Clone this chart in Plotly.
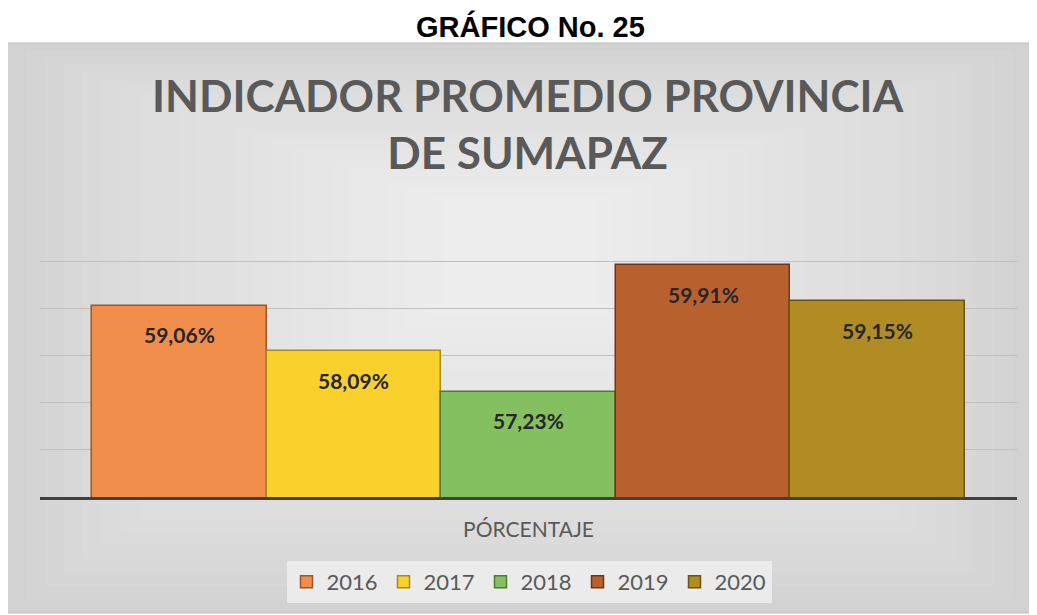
import plotly.graph_objects as go

# ---- data ----
axis_title = "PÓRCENTAJE"
years = ["2016", "2017", "2018", "2019", "2020"]
values = [59.06, 58.09, 57.23, 59.91, 59.15]
labels = [f"{v:.2f}".replace(".", ",") + "%" for v in values]
colors = ["#F28E4B", "#FAD02C", "#84C060", "#B9612E", "#B18B24"]
edge_colors = ["#9c5526", "#a88a14", "#4f7a35", "#6e3616", "#6b5410"]

W, H = 1037, 615
OFF = 8  # page body margin


def px_x(v):
    return (v - OFF) / W


def px_y(v):
    return 1 - (v - OFF) / H


fig = go.Figure()
for yr, v, c, ec in zip(years, values, colors, edge_colors):
    fig.add_trace(go.Bar(
        x=[yr], y=[v], name=yr,
        marker=dict(color=c, line=dict(color=ec, width=1.5)),
        hoverinfo="skip",
    ))

# ---- background box with approximate radial gradient ----
shapes = []
bx0, by0, bx1, by1 = 7, 43, 1032, 613
shapes.append(dict(type="rect", xref="paper", yref="paper",
                   x0=px_x(bx0), x1=px_x(bx1), y0=px_y(by1), y1=px_y(by0),
                   fillcolor="#d2d2d2", line=dict(width=0), layer="below"))
cx, cy = 520, 250
n = 26
for i in range(1, n + 1):
    f = i / (n + 1)
    x0 = bx0 + (cx - bx0) * f
    x1 = bx1 - (bx1 - cx) * f
    y0 = by0 + (cy - by0) * f * 0.9
    y1 = by1 - (by1 - cy) * f
    shapes.append(dict(type="rect", xref="paper", yref="paper",
                       x0=px_x(x0), x1=px_x(x1), y0=px_y(y1), y1=px_y(y0),
                       fillcolor="rgba(255,255,255,0.05)", line=dict(width=0),
                       layer="below"))
shapes.append(dict(type="rect", xref="paper", yref="paper",
                   x0=px_x(bx0), x1=px_x(bx1), y0=px_y(by1), y1=px_y(by0),
                   fillcolor="rgba(0,0,0,0)", line=dict(color="#bdbdbd", width=1),
                   layer="below"))

annotations = [
    dict(text="<b>GRÁFICO No. 25</b>", xref="paper", yref="paper",
         x=px_x(530), y=1.0, xanchor="center", yanchor="top", showarrow=False,
         font=dict(family="Liberation Sans", size=29, color="#000000")),
    dict(text="<b>INDICADOR PROMEDIO PROVINCIA<br>DE SUMAPAZ</b>", xref="paper", yref="paper",
         x=px_x(528), y=px_y(124), xanchor="center", yanchor="middle", showarrow=False,
         font=dict(family="Lato", size=44, color="#595959")),
]
# value labels inside the top of each bar (x given as category index)
for idx, (v, lab) in enumerate(zip(values, labels)):
    annotations.append(dict(text=f"<b>{lab}</b>", x=idx, y=v, xref="x", yref="y",
                            yshift=-29, showarrow=False, xanchor="center", yanchor="middle",
                            font=dict(family="Lato", size=21, color="#262626")))

fig.update_layout(
    width=W, height=H,
    margin=dict(l=0, r=0, t=0, b=0),
    paper_bgcolor="#ffffff", plot_bgcolor="rgba(0,0,0,0)",
    barmode="overlay", bargap=0,
    shapes=shapes, annotations=annotations,
    showlegend=True,
    legend=dict(orientation="h", x=px_x(529), xanchor="center",
                y=px_y(582), yanchor="middle",
                bgcolor="#ebebeb", font=dict(family="Lato", size=22, color="#595959"),
                itemwidth=30, entrywidth=52, entrywidthmode="pixels", traceorder="normal",
                itemclick=False, itemdoubleclick=False),
    xaxis=dict(type="category", domain=[px_x(40), px_x(1017)], range=[-0.798, 4.798],
               showgrid=False, zeroline=False, showticklabels=False,
               showline=True, linecolor="#404040", linewidth=3, ticks="",
               automargin=False,
               title=dict(text=axis_title, standoff=24,
                          font=dict(family="Lato", size=21, color="#595959"))),
    yaxis=dict(domain=[px_y(497), px_y(214)], range=[55, 61], dtick=1,
               showticklabels=False, showgrid=True, gridcolor="#c0c0c0", gridwidth=1,
               zeroline=False, showline=False, ticks="", automargin=False),
)

fig.write_html("out.html")
